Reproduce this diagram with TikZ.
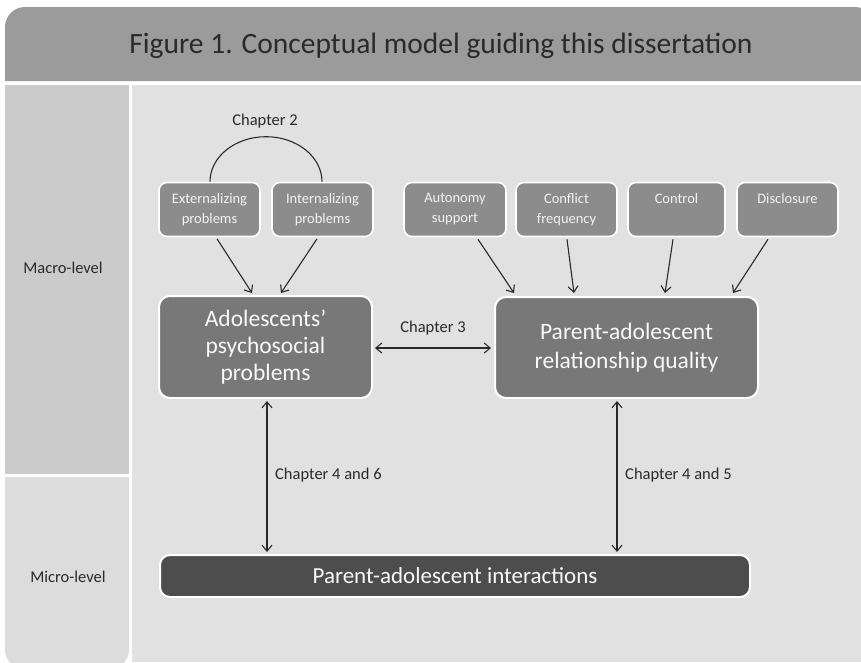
\documentclass[tikz,border=0pt]{standalone}
\usepackage{fontspec}
\setmainfont{Carlito}
\usetikzlibrary{arrows.meta}
\definecolor{titlegray}{HTML}{9B9B9B}
\definecolor{macrogray}{HTML}{CBCBCB}
\definecolor{microgray}{HTML}{DCDCDC}
\definecolor{maingray}{HTML}{E1E1E1}
\definecolor{smallfill}{HTML}{8C8C8C}
\definecolor{bigfill}{HTML}{787878}
\definecolor{darkfill}{HTML}{4D4D4D}
\definecolor{inkgray}{HTML}{2A2A2A}
\tikzset{
  smallbox/.style={draw=white, line width=1.6pt, fill=smallfill, rounded corners=8pt,
    text=white!90!gray, align=center, font=\fontsize{14.5}{20}\selectfont,
    minimum height=54pt, inner sep=0pt},
  bigbox/.style={draw=white, line width=2pt, fill=bigfill, rounded corners=11pt,
    text=white!95!gray, align=center, font=\fontsize{23.5}{27}\selectfont, inner sep=0pt},
  darkbox/.style={draw=white, line width=2pt, fill=darkfill, rounded corners=10pt,
    text=white!95!gray, align=center, font=\fontsize{23}{26}\selectfont, inner sep=0pt},
  lbl/.style={text=inkgray, font=\fontsize{16.5}{19}\selectfont, inner sep=0pt},
  conn/.style={draw=inkgray, line width=1.1pt},
  arr/.style={conn, -{Straight Barb[length=6pt,width=10pt]}},
  darr/.style={conn, {Straight Barb[length=6pt,width=10pt]}-{Straight Barb[length=6pt,width=10pt]}}
}
\begin{document}
\begin{tikzpicture}[x=1pt,y=-1pt]
\useasboundingbox (0,0) rectangle (861,662);
\fill[white] (0,0) rectangle (861,662);
% background panels
\fill[titlegray] (5,81) [rounded corners=20pt] -- (5,7) -- (875,7) [sharp corners] -- (875,81) -- cycle;
\fill[macrogray] (5,85) rectangle (129,474);
\fill[microgray] (129,477) -- (5,477) [rounded corners=18pt] -- (5,668) -- (129,668) [sharp corners] -- cycle;
\fill[maingray] (132,85) rectangle (861,662);
% title and level labels
\node[text=inkgray, font=\fontsize{29.5}{32}\selectfont, inner sep=0pt] (title) at (441,46) {Figure 1. Conceptual model guiding this dissertation};
\node[lbl] (macro) at (63,268) {Macro-level};
\node[lbl] (micro) at (68,577) {Micro-level};
% small boxes
\node[smallbox, minimum width=101pt] (ext) at (209.5,209.5) {Externalizing\\problems};
\node[smallbox, minimum width=101pt] (int) at (322.5,209.5) {Internalizing\\problems};
\node[smallbox, minimum width=102pt] (aut) at (455,209.5) {Autonomy\\support};
\node[smallbox, minimum width=101pt] (con) at (566.5,209.5) {Conflict\\frequency};
\node[smallbox, minimum width=97pt] (ctl) at (676.5,209.5) {Control\\\phantom{p}};
\node[smallbox, minimum width=101pt] (dis) at (787.5,209.5) {Disclosure\\\phantom{p}};
% big boxes
\node[bigbox, minimum width=213pt, minimum height=102pt] (adol) at (265.5,347) {Adolescents'\\psychosocial\\problems};
\node[bigbox, minimum width=263pt, minimum height=101pt, font=\fontsize{23.5}{29}\selectfont] (parq) at (626.5,347.5) {Parent-adolescent\\relationship quality};
\node[darkbox, minimum width=590pt, minimum height=42pt] (inter) at (455,576) {Parent-adolescent interactions};
% chapter 2 arc
\draw[conn] ([xshift=0.5pt]ext.north) arc[start angle=180, end angle=0, x radius=56pt, y radius=45pt];
\node[lbl] (ch2) at (265,121) {Chapter 2};
% arrows into adolescents' problems
\draw[arr] ([xshift=7.5pt,yshift=-1.5pt]ext.south) -- ([xshift=-13.5pt,yshift=2pt]adol.north);
\draw[arr] ([xshift=-5.5pt,yshift=-1.5pt]int.south) -- ([xshift=15.5pt,yshift=2pt]adol.north);
% arrows into relationship quality
\draw[arr] ([xshift=23pt,yshift=-2pt]aut.south) -- ([xshift=-112.5pt,yshift=3pt]parq.north);
\draw[arr] ([xshift=0.5pt,yshift=-2pt]con.south) -- ([xshift=-52.5pt,yshift=3pt]parq.north);
\draw[arr] ([xshift=-3.5pt,yshift=-2pt]ctl.south) -- ([xshift=38.5pt,yshift=3pt]parq.north);
\draw[arr] ([xshift=-19.5pt,yshift=-2pt]dis.south) -- ([xshift=106.5pt,yshift=3pt]parq.north);
% chapter 3
\draw[darr] ([xshift=2pt,yshift=-1pt]adol.east) -- ([xshift=-3pt,yshift=-0.5pt]parq.west);
\node[lbl] (ch3) at (433,328) {Chapter 3};
% verticals
\draw[darr, shorten >=2pt] ([xshift=1.5pt,yshift=-2pt]adol.south) coordinate (la) -- (la |- inter.north);
\node[lbl, anchor=west] (ch46) at (275,475) {Chapter 4 and 6};
\draw[darr, shorten >=2pt] ([xshift=-9.5pt,yshift=-2pt]parq.south) coordinate (ra) -- (ra |- inter.north);
\node[lbl, anchor=west] (ch45) at (625,475) {Chapter 4 and 5};
\end{tikzpicture}
\end{document}
